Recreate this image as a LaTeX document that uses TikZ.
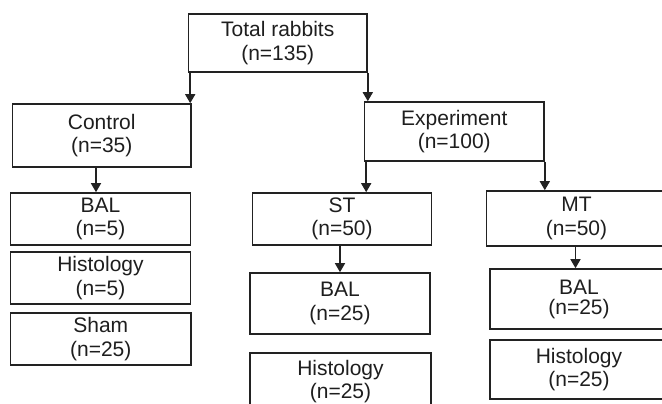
\documentclass[tikz,border=0pt]{standalone}
\usepackage{fontspec}
\setmainfont{Liberation Sans}
\usetikzlibrary{arrows.meta}
\definecolor{ink}{HTML}{222222}
\definecolor{txt}{HTML}{1E1E1E}
\tikzset{
  box/.style={draw=ink, line width=1.6pt, inner sep=0pt, align=center,
    text=txt, font=\fontsize{21pt}{23.5pt}\selectfont},
  arr/.style={draw=ink, line width=1.5pt, -{Triangle[width=10pt,length=9pt]}}
}
\begin{document}
\begin{tikzpicture}[x=1pt,y=-1pt]
\useasboundingbox (0,0) rectangle (662,404);
\clip (0,0) rectangle (662,404);
\node[box, minimum width=178.5pt, minimum height=58pt] (total) at (277.75,43) {Total rabbits\\(n=135)};
\node[box, minimum width=178.5pt, minimum height=63pt] (control) at (101.75,135.5) {Control\\(n=35)};
\node[box, minimum width=179.5pt, minimum height=59pt] (exp) at (454.25,131.5) {Experiment\\(n=100)};
\node[box, minimum width=180pt, minimum height=52pt] (balc) at (100.5,219) {BAL\\(n=5)};
\node[box, minimum width=180pt, minimum height=52pt] (histc) at (100.5,278) {Histology\\(n=5)};
\node[box, minimum width=180.5pt, minimum height=52pt] (sham) at (100.75,339) {Sham\\(n=25)};
\node[box, minimum width=179pt, minimum height=52pt] (st) at (342,219) {ST\\(n=50)};
\node[box, minimum width=180pt, minimum height=55pt] (mt) at (576.5,218.5) {MT\\(n=50)};
\node[box, minimum width=180pt, minimum height=61pt] (balst) at (340,303.5) {BAL\\(n=25)};
\node[box, minimum width=181pt, minimum height=57pt] (histst) at (340.5,381.5) {Histology\\(n=25)};
\node[box, minimum width=178pt, minimum height=60pt, font=\fontsize{21pt}{20pt}\selectfont] (balmt) at (579,299) {BAL\\(n=25)};
\node[box, minimum width=178pt, minimum height=59pt] (histmt) at (579,369.5) {Histology\\(n=25)};
\coordinate (a1) at ([xshift=2.5pt]total.south west);
\draw[arr] (a1) -- (a1 |- control.north);
\draw[arr] (total.south east) -- (total.south east |- exp.north);
\coordinate (a2) at ([xshift=-5.75pt]control.south);
\draw[arr] (a2) -- (a2 |- balc.north);
\coordinate (a3) at ([xshift=2.5pt]exp.south west);
\draw[arr] (a3) -- (a3 |- st.north);
\draw[arr] (exp.south east) -- (exp.south east |- mt.north);
\coordinate (a4) at ([xshift=-2pt]st.south);
\draw[arr] (a4) -- (a4 |- balst.north);
\coordinate (a5) at ([xshift=-1pt]mt.south);
\draw[arr] (a5) -- (a5 |- balmt.north);
\end{tikzpicture}
\end{document}
